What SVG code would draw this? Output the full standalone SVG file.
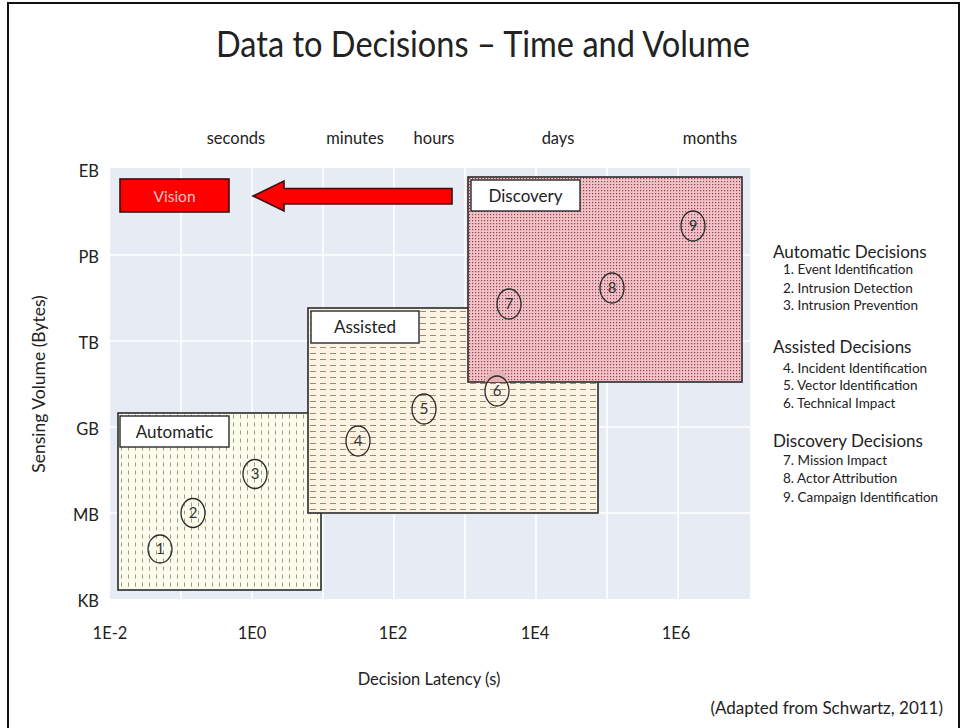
<svg xmlns="http://www.w3.org/2000/svg" width="964" height="728" viewBox="0 0 964 728">
  <style>
    text { font-family: "Lato", "Open Sans", "Liberation Sans", sans-serif; fill: #222; }
    .axis { font-size: 16.5px; }
    .grid { stroke: #ffffff; stroke-width: 1.6; }
    .zone { stroke: #2a2a2a; stroke-width: 1.6; }
    .tag { fill: #ffffff; stroke: #2a2a2a; stroke-width: 1.4; }
    .tagtxt { font-size: 17px; text-anchor: middle; }
    .pt { fill: none; stroke: #2a2a2a; stroke-width: 1.3; }
    .pttxt { font-size: 15px; text-anchor: middle; fill: #333; }
    .head { font-size: 17px; }
    .item { font-size: 13.5px; }
  </style>
  <defs>
    <!-- vertical dash fill for the automatic zone -->
    <pattern id="vdash" x="118" y="413" width="7" height="8" patternUnits="userSpaceOnUse">
      <rect width="7" height="8" fill="#fcfcec"/>
      <rect x="3" y="1.5" width="1" height="4" fill="#9a9a84"/>
    </pattern>
    <!-- horizontal dash fill for the assisted zone -->
    <pattern id="hdash" x="308" y="308" width="10" height="6" patternUnits="userSpaceOnUse">
      <rect width="10" height="6" fill="#fdf3e4"/>
      <rect x="2" y="3" width="6" height="1" fill="#9c8c6c"/>
    </pattern>
    <!-- fine dot fill for the discovery zone -->
    <pattern id="dots" x="468" y="177" width="3" height="3" patternUnits="userSpaceOnUse">
      <rect width="3" height="3" fill="#efc3c8"/>
      <rect x="1" y="1" width="1.2" height="1.2" fill="#9a3c4c"/>
    </pattern>
  </defs>

  <!-- page -->
  <rect x="0" y="0" width="964" height="728" fill="#ffffff"/>
  <rect x="8" y="3" width="951" height="740" fill="none" stroke="#111" stroke-width="2"/>

  <text x="216" y="57" font-size="36" textLength="534" lengthAdjust="spacingAndGlyphs">Data to Decisions – Time and Volume</text>

  <!-- plot area -->
  <g id="plot">
    <rect x="110" y="168" width="640" height="431" fill="#e7ebf3"/>
    <g class="grid">
      <line x1="181" y1="168" x2="181" y2="599"/>
      <line x1="252" y1="168" x2="252" y2="599"/>
      <line x1="323" y1="168" x2="323" y2="599"/>
      <line x1="394" y1="168" x2="394" y2="599"/>
      <line x1="465" y1="168" x2="465" y2="599"/>
      <line x1="536" y1="168" x2="536" y2="599"/>
      <line x1="607" y1="168" x2="607" y2="599"/>
      <line x1="678" y1="168" x2="678" y2="599"/>
      <line x1="110" y1="255" x2="750" y2="255"/>
      <line x1="110" y1="341" x2="750" y2="341"/>
      <line x1="110" y1="427" x2="750" y2="427"/>
      <line x1="110" y1="513" x2="750" y2="513"/>
    </g>
  </g>

  <!-- axes labels -->
  <g id="axes" class="axis">
    <text x="236" y="144" text-anchor="middle">seconds</text>
    <text x="355" y="144" text-anchor="middle">minutes</text>
    <text x="434" y="144" text-anchor="middle">hours</text>
    <text x="558" y="144" text-anchor="middle">days</text>
    <text x="710" y="144" text-anchor="middle">months</text>

    <text x="99" y="177" text-anchor="end">EB</text>
    <text x="99" y="263" text-anchor="end">PB</text>
    <text x="99" y="349" text-anchor="end">TB</text>
    <text x="99" y="435" text-anchor="end">GB</text>
    <text x="99" y="521" text-anchor="end">MB</text>
    <text x="99" y="607" text-anchor="end">KB</text>

    <text x="110" y="639" text-anchor="middle">1E-2</text>
    <text x="252" y="639" text-anchor="middle">1E0</text>
    <text x="393" y="639" text-anchor="middle">1E2</text>
    <text x="535" y="639" text-anchor="middle">1E4</text>
    <text x="676" y="639" text-anchor="middle">1E6</text>

    <text x="429" y="685" text-anchor="middle">Decision Latency (s)</text>
    <text x="0" y="0" text-anchor="middle" font-size="17.5" transform="translate(45 384) rotate(-90)">Sensing Volume (Bytes)</text>
  </g>

  <!-- automatic zone -->
  <g id="automatic">
    <rect class="zone" x="118" y="413" width="203" height="177" fill="url(#vdash)"/>
    <rect class="tag" x="120" y="416" width="109" height="31"/>
    <text class="tagtxt" x="174.5" y="438">Automatic</text>
    <ellipse class="pt" cx="160" cy="549" rx="12" ry="14"/>
    <text class="pttxt" x="160" y="554">1</text>
    <ellipse class="pt" cx="193" cy="513" rx="12" ry="14.5"/>
    <text class="pttxt" x="193" y="518">2</text>
    <ellipse class="pt" cx="255" cy="474" rx="12" ry="14.5"/>
    <text class="pttxt" x="255" y="479">3</text>
  </g>

  <!-- assisted zone -->
  <g id="assisted">
    <rect class="zone" x="308" y="308" width="290" height="205" fill="url(#hdash)"/>
    <rect class="tag" x="311" y="311" width="108" height="32"/>
    <text class="tagtxt" x="365" y="333">Assisted</text>
    <ellipse class="pt" cx="358" cy="441" rx="12" ry="15"/>
    <text class="pttxt" x="358" y="446">4</text>
    <ellipse class="pt" cx="424" cy="409" rx="12" ry="15"/>
    <text class="pttxt" x="424" y="414">5</text>
  </g>

  <!-- discovery zone -->
  <g id="discovery">
    <rect class="zone" x="468" y="177" width="274" height="205" fill="url(#dots)" stroke="#3a1f22"/>
    <rect class="tag" x="471" y="180" width="109" height="31"/>
    <text class="tagtxt" x="525.5" y="202">Discovery</text>
    <ellipse class="pt" cx="509" cy="304" rx="12" ry="15"/>
    <text class="pttxt" x="509" y="309">7</text>
    <ellipse class="pt" cx="612" cy="288" rx="12" ry="15"/>
    <text class="pttxt" x="612" y="293">8</text>
    <ellipse class="pt" cx="693" cy="226" rx="12" ry="15"/>
    <text class="pttxt" x="693" y="231">9</text>
  </g>

  <!-- point 6 sits on the boundary between assisted and discovery -->
  <g id="point6">
    <path d="M485.2,382 A12,15 0 0 1 508.8,382 Z" fill="#e6b0b6"/>
    <ellipse class="pt" cx="497" cy="391" rx="12" ry="15"/>
    <text class="pttxt" x="497" y="396">6</text>
  </g>

  <!-- vision target -->
  <g id="vision">
    <rect x="120" y="179" width="109" height="33" fill="#ff0000" stroke="#3a1010" stroke-width="1.6"/>
    <text x="174.5" y="201.5" font-size="15.5" text-anchor="middle" style="fill:#f7c4c4">Vision</text>
  </g>

  <!-- connector: discovery pushing toward vision -->
  <g id="connectors">
    <path d="M253,196 L284,181 L284,188.5 L452,188.5 L452,204 L284,204 L284,211 Z" fill="#ff0000" stroke="#3a1010" stroke-width="1.6" stroke-linejoin="miter"/>
  </g>

  <!-- legend -->
  <g id="legend">
    <text class="head" x="773" y="258">Automatic Decisions</text>
    <text class="item" x="783" y="274">1. Event Identification</text>
    <text class="item" x="783" y="292.5">2. Intrusion Detection</text>
    <text class="item" x="783" y="310">3. Intrusion Prevention</text>

    <text class="head" x="773" y="353">Assisted Decisions</text>
    <text class="item" x="783" y="373">4. Incident Identification</text>
    <text class="item" x="783" y="390">5. Vector Identification</text>
    <text class="item" x="783" y="408">6. Technical Impact</text>

    <text class="head" x="773" y="447">Discovery Decisions</text>
    <text class="item" x="783" y="465">7. Mission Impact</text>
    <text class="item" x="783" y="483">8. Actor Attribution</text>
    <text class="item" x="783" y="502">9. Campaign Identification</text>
  </g>

  <text x="943" y="714" font-size="17" text-anchor="end">(Adapted from Schwartz, 2011)</text>
</svg>
